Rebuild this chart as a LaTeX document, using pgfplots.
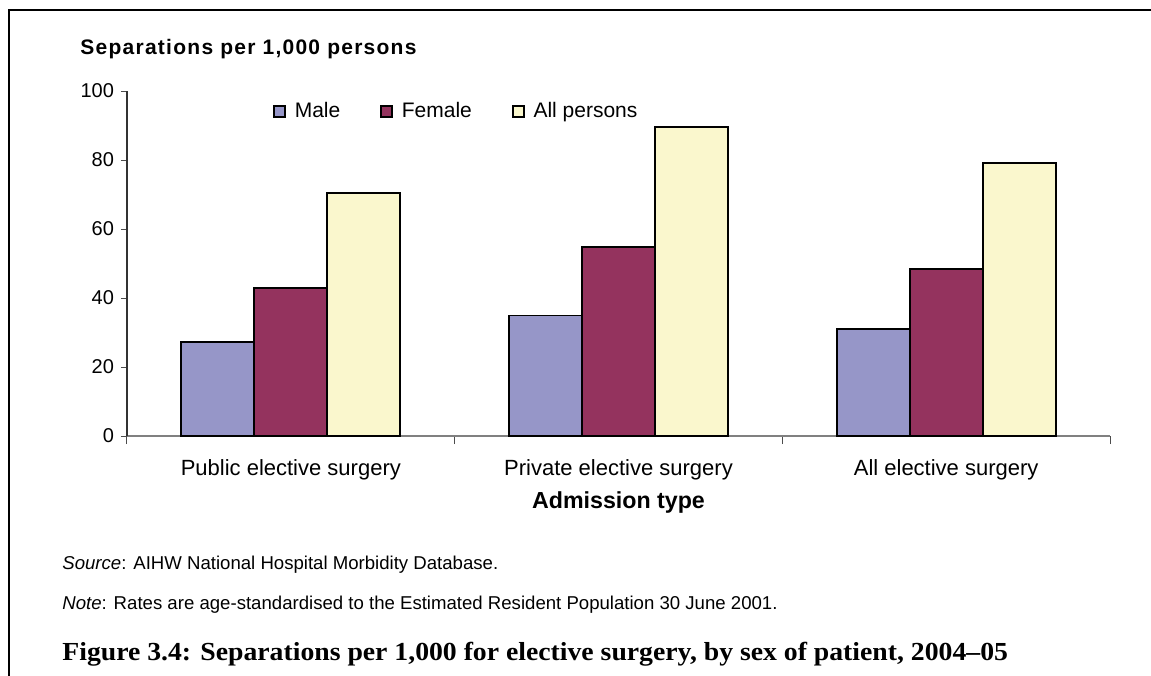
\documentclass[border=0pt]{standalone}
\usepackage{fontspec}
\setmainfont{Liberation Sans}
\newfontfamily\capfont[Ligatures=TeX]{Liberation Serif}
\usepackage{pgfplots}
\pgfplotsset{compat=1.18}
\definecolor{cmale}{RGB}{150,150,200}
\definecolor{cfemale}{RGB}{148,51,94}
\definecolor{call}{RGB}{250,247,205}
\pgfplotsset{sqleg/.style={legend image code/.code={\draw[##1,draw=black,line width=0.8pt] (0pt,-2.75pt) rectangle (5.5pt,2.75pt);}}}
\begin{document}
\begin{tikzpicture}[x=1pt,y=1pt]
\path[use as bounding box] (-63.5,-119.5) rectangle (512,218);
\draw[line width=1pt] (-59,-130) -- (-59,213) -- (520,213);
\begin{axis}[
  at={(0,0)}, anchor=south west,
  width=491.5pt, height=172.5pt, scale only axis,
  xmin=-0.5, xmax=2.5, ymin=0, ymax=100,
  ybar=0pt, bar width=36.5pt,
  axis x line*=bottom, axis y line*=left,
  x axis line style={draw=gray, line width=1pt, -},
  y axis line style={draw=black!80, line width=0.6pt, -},
  ytick={0,20,40,60,80,100},
  xtick={0,1,2},
  xticklabels={Public elective surgery, Private elective surgery, All elective surgery},
  minor xtick={-0.5,0.5,1.5,2.5},
  tick align=outside,
  major x tick style={draw=none},
  minor x tick style={draw=black!70, line width=0.5pt},
  minor tick length=4pt,
  major tick length=3pt,
  y tick style={draw=black!70, line width=0.5pt},
  /pgf/number format/assume math mode=true,
  yticklabel style={font=\fontsize{10}{12}\selectfont},
  xticklabel style={yshift=-5pt, font=\fontsize{11}{13}\selectfont},
  xlabel={\textbf{Admission type}},
  xlabel style={at={(axis description cs:0.5,0)}, anchor=center, yshift=-33pt, font=\fontsize{11.6}{13}\selectfont},
  legend style={at={(0.336,0.94)}, anchor=center, draw=none, fill=none,
    font=\fontsize{10.5}{12}\selectfont,
    /tikz/every odd column/.append style={column sep=2.5pt},
    /tikz/every even column/.append style={column sep=18pt}},
  legend columns=3,
  clip=false,
]
\addplot[fill=cmale, draw=black, line width=0.9pt, sqleg] coordinates {(0,27.3) (1,34.9) (2,30.9)};
\addplot[fill=cfemale, draw=black, line width=0.9pt, sqleg] coordinates {(0,43.0) (1,54.7) (2,48.3)};
\addplot[fill=call, draw=black, line width=0.9pt, sqleg] coordinates {(0,70.4) (1,89.6) (2,79.1)};
\legend{Male, Female, All persons}
\end{axis}
\node[anchor=base west, inner sep=0pt, font=\fontsize{10.5}{12}\selectfont\bfseries\addfontfeature{LetterSpace=6}] at (-23.5,190.5) {Separations per 1,000 persons};
\node[anchor=base west, inner sep=0pt, font=\fontsize{9.3}{11}\selectfont] at (-32.5,-66.5) {\textit{Source}: AIHW National Hospital Morbidity Database.};
\node[anchor=base west, inner sep=0pt, font=\fontsize{9.3}{11}\selectfont] at (-32.5,-86.5) {\textit{Note}: Rates are age-standardised to the Estimated Resident Population 30 June 2001.};
\node[anchor=base west, inner sep=0pt, font=\fontsize{13}{15}\selectfont\capfont\bfseries] at (-32.5,-112) {\scalebox{1.066}[1]{Figure 3.4: Separations per 1,000 for elective surgery, by sex of patient, 2004–05}};
\end{tikzpicture}
\end{document}
